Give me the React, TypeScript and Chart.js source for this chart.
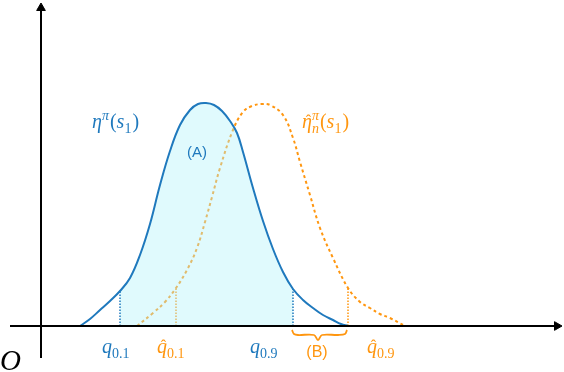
import React, { useEffect, useRef } from "react";
import { Chart, registerables } from "chart.js";

Chart.register(...registerables);

// ---- data (x: return value, y: density, arbitrary units) ----
const blueX = [3.9, 4.9, 5.9, 6.9, 7.9, 8.9, 9.9, 10.9, 11.9, 12.9, 13.9, 14.9, 15.7, 16.5, 17.3, 18.1, 18.9, 19.6, 20.2, 21.2, 22.2, 23.2, 24.2, 25.2, 26.2, 27.2, 28.2, 29.2, 30.0, 30.7];
const blueY = [0, 0.7, 1.6, 2.5, 3.5, 4.8, 7.1, 10.2, 14.1, 17.5, 20.1, 21.6, 22.2, 22.3, 22.1, 21.5, 20.5, 19.3, 17.4, 13.8, 10.5, 7.7, 5.4, 3.7, 2.6, 1.8, 1.1, 0.6, 0.2, 0];

const orangeX = [9.6, 11.2, 12.4, 13.5, 14.6, 15.6, 16.4, 17.1, 17.9, 19.2, 20.2, 21.1, 22.1, 22.9, 24.2, 25.2, 25.9, 26.9, 27.9, 29.2, 30.7, 31.9, 32.9, 33.9, 34.9, 36.4];
const orangeY = [0, 1.3, 2.4, 3.8, 5.6, 7.8, 10.4, 12.9, 15.8, 19.6, 21.4, 22.0, 22.2, 22.1, 21.1, 18.8, 16.4, 13.1, 9.8, 6.8, 3.8, 2.4, 1.8, 1.2, 0.8, 0];

// quantiles and curve heights at them
const blueQuantX = [7.9, 25.2];
const blueQuantY = [3.5, 3.7];
const orangeQuantX = [13.5, 30.7];
const orangeQuantY = [3.8, 3.8];

// brace (B) under the axis between q0.9 and q̂0.9
const braceX = [25.1, 25.3, 25.7, 27.3, 27.7, 28.1, 29.7, 30.4, 30.6];
const braceY = [-0.4, -0.8, -0.9, -0.9, -1.4, -0.9, -0.9, -0.8, -0.4];

// axes
const xAxisX = [-3.1, 51.6];
const yAxisY = [-3.2, 31.8];

const X_MIN = -4.1, X_MAX = 52.3, Y_MIN = -4.6, Y_MAX = 32.6;

const BLUE = "#1f79bd";
const ORANGE = "#ff960f";

type Run = { t: string; italic?: boolean; size: number; dy?: number; dx?: number; hat?: boolean; stay?: boolean; sans?: boolean };
type Label = { x: number; y: number; color: string; runs: Run[]; center?: boolean };

const labels: Label[] = [
  {
    x: 5.1, y: 19.8, color: BLUE,
    runs: [
      { t: "η", italic: true, size: 20 },
      { t: "π", italic: true, size: 14, dy: -8 },
      { t: "(", size: 20, dx: 1 },
      { t: "s", italic: true, size: 20 },
      { t: "1", size: 14, dy: 5 },
      { t: ")", size: 20, dx: 1 },
    ],
  },
  {
    x: 26.1, y: 19.8, color: ORANGE,
    runs: [
      { t: "η", italic: true, size: 20, hat: true },
      { t: "π", italic: true, size: 14, dy: -8, stay: true },
      { t: "n", italic: true, size: 14, dy: 5 },
      { t: "(", size: 20, dx: 1 },
      { t: "s", italic: true, size: 20 },
      { t: "1", size: 14, dy: 5 },
      { t: ")", size: 20, dx: 1 },
    ],
  },
  { x: 15.6, y: 17.3, color: BLUE, center: true, runs: [{ t: "(A)", size: 15, sans: true }] },
  { x: 27.6, y: -2.7, color: ORANGE, center: true, runs: [{ t: "(B)", size: 16, sans: true }] },
  { x: 6.1, y: -2.7, color: BLUE, runs: [{ t: "q", italic: true, size: 20 }, { t: "0.1", size: 14, dy: 5 }] },
  { x: 11.6, y: -2.7, color: ORANGE, runs: [{ t: "q", italic: true, size: 20, hat: true }, { t: "0.1", size: 14, dy: 5 }] },
  { x: 20.9, y: -2.7, color: BLUE, runs: [{ t: "q", italic: true, size: 20 }, { t: "0.9", size: 14, dy: 5 }] },
  { x: 32.6, y: -2.7, color: ORANGE, runs: [{ t: "q", italic: true, size: 20, hat: true }, { t: "0.9", size: 14, dy: 5 }] },
  { x: -4.1, y: -4.4, color: "#000", runs: [{ t: "O", italic: true, size: 29 }] },
];

function fontOf(r: Run) {
  if (r.sans) return `${r.size}px "Liberation Sans"`;
  return `${r.italic ? "italic " : ""}${r.size}px "Liberation Serif"`;
}

const labelPlugin = {
  id: "mathLabels",
  afterDatasetsDraw(chart: any) {
    const ctx = chart.ctx as CanvasRenderingContext2D;
    const xs = chart.scales.x, ys = chart.scales.y;
    ctx.save();
    for (const lb of labels) {
      const px = xs.getPixelForValue(lb.x);
      const py = ys.getPixelForValue(lb.y);
      ctx.fillStyle = lb.color;
      if (lb.center) {
        const r = lb.runs[0];
        ctx.font = fontOf(r);
        ctx.textAlign = "center";
        ctx.textBaseline = "middle";
        ctx.fillText(r.t, px, py);
        continue;
      }
      ctx.textAlign = "left";
      ctx.textBaseline = "alphabetic";
      let cx = px;
      let pending = 0;
      for (const r of lb.runs) {
        ctx.font = fontOf(r);
        cx += r.dx || 0;
        ctx.fillText(r.t, cx, py + (r.dy || 0));
        const w = ctx.measureText(r.t).width;
        if (r.hat) {
          ctx.font = `${Math.round(r.size * 0.8)}px "Liberation Serif"`;
          const hw = ctx.measureText("ˆ").width;
          ctx.fillText("ˆ", cx + w / 2 - hw / 2 + 1.5, py - r.size * 0.12);
          ctx.font = fontOf(r);
        }
        if (r.stay) {
          pending = w;
        } else {
          cx += Math.max(w, pending);
          pending = 0;
        }
      }
    }
    ctx.restore();
  },
};

function pts(xs: number[], ys: number[]) {
  return xs.map((x, i) => ({ x, y: ys[i] }));
}

export default function App() {
  const ref = useRef<HTMLCanvasElement | null>(null);
  useEffect(() => {
    if (!ref.current) return;
    const fillPts = pts(blueX, blueY).filter((p) => p.x >= blueQuantX[0] && p.x <= blueQuantX[1]);
    const vLine = (x: number, y: number) => [{ x, y: 0 }, { x, y }];
    const chart = new Chart(ref.current, {
      type: "line",
      data: {
        datasets: [
          // x axis with arrow
          {
            data: xAxisX.map((x) => ({ x, y: 0 })),
            borderColor: "#000", borderWidth: 2,
            pointRadius: [0, 5], pointStyle: "triangle", pointRotation: [0, 90],
            pointBackgroundColor: "#000", pointBorderColor: "#000", pointBorderWidth: 1,
            order: 0,
          } as any,
          // y axis with arrow
          {
            data: yAxisY.map((y) => ({ x: 0, y })),
            borderColor: "#000", borderWidth: 2,
            pointRadius: [0, 5], pointStyle: "triangle", pointRotation: 0,
            pointBackgroundColor: "#000", pointBorderColor: "#000", pointBorderWidth: 1,
            order: 0,
          } as any,
          // blue curve
          {
            data: pts(blueX, blueY),
            borderColor: BLUE, borderWidth: 2, pointRadius: 0,
            tension: 0.4, order: 1,
          },
          // blue quantile lines
          ...blueQuantX.map((qx, i) => ({
            data: vLine(qx, blueQuantY[i]),
            borderColor: BLUE, borderWidth: 1.5, borderDash: [1.5, 1.5], pointRadius: 0, order: 1,
          })),
          // shaded area between q0.1 and q0.9
          {
            data: fillPts,
            borderColor: "transparent", borderWidth: 1, pointRadius: 0,
            tension: 0.4,
            fill: "origin", backgroundColor: "rgba(177,242,250,0.4)", order: 2,
          },
          // orange curve
          {
            data: pts(orangeX, orangeY),
            borderColor: ORANGE, borderWidth: 2, borderDash: [3, 3], pointRadius: 0,
            tension: 0.4, order: 3,
          },
          // orange quantile lines
          ...orangeQuantX.map((qx, i) => ({
            data: vLine(qx, orangeQuantY[i]),
            borderColor: ORANGE, borderWidth: 1.5, borderDash: [1.5, 1.5], pointRadius: 0, order: 3,
          })),
          // brace
          {
            data: pts(braceX, braceY),
            borderColor: ORANGE, borderWidth: 1.8, pointRadius: 0, tension: 0.35, order: 0,
          },
        ],
      },
      options: {
        animation: false,
        responsive: true,
        maintainAspectRatio: false,
        layout: { padding: 0, autoPadding: false },
        plugins: { legend: { display: false }, tooltip: { enabled: false } },
        scales: {
          x: { type: "linear", min: X_MIN, max: X_MAX, display: false },
          y: { type: "linear", min: Y_MIN, max: Y_MAX, display: false },
        },
      },
      plugins: [labelPlugin],
    });
    return () => chart.destroy();
  }, []);
  return (
    <div style={{ position: "fixed", left: 0, top: 0, width: 564, height: 372, background: "#fff" }}>
      <canvas ref={ref} />
    </div>
  );
}
